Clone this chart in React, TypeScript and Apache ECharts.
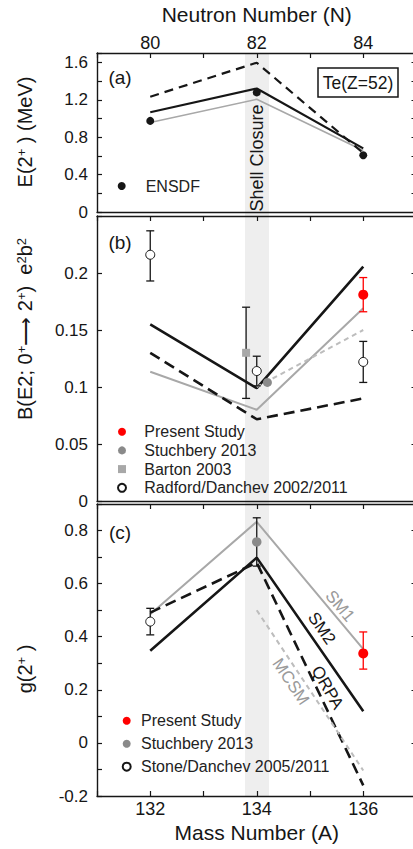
import React, { useEffect, useRef } from "react";
import * as echarts from "echarts";

const FONT = '"Liberation Sans", Arial, Helvetica, sans-serif';

// Mass number A of the Te isotopes; neutron number N = A - Z
const massA = [132, 134, 136];
const Z_TE = 52;
const shellBand = [133.78, 134.23];

// (a) E(2+) in MeV
const aEnsdf = [0.974, 1.279, 0.606];
const aSM1 = [0.956, 1.205, 0.657];
const aSM2 = [1.067, 1.32, 0.68];
const aQRPA = [1.233, 1.596, 0.63];

// (b) B(E2; 0+ -> 2+) in e2b2
const bSM1 = [0.1134, 0.08, 0.169];
const bSM2 = [0.155, 0.099, 0.2055];
const bQRPA = [0.13, 0.0717, 0.09];
const bMcsmA = [134, 136];
const bMCSM = [0.1, 0.15];
const bPresentA = [136];
const bPresent = [0.181];
const bPresentLo = [0.166];
const bPresentHi = [0.196];
const bStuchA = [134.2];
const bStuch = [0.104];
const bBartonA = [133.8];
const bBarton = [0.13];
const bBartonLo = [0.09];
const bBartonHi = [0.17];
const bRadfordA = [132, 134, 136];
const bRadford = [0.216, 0.114, 0.122];
const bRadfordLo = [0.193, 0.101, 0.104];
const bRadfordHi = [0.237, 0.127, 0.14];

// (c) g(2+)
const cSM1 = [0.485, 0.833, 0.353];
const cSM2 = [0.347, 0.698, 0.119];
const cQRPA = [0.491, 0.679, -0.16];
const cMcsmA = [134, 136];
const cMCSM = [0.5, -0.104];
const cPresentA = [136];
const cPresent = [0.337];
const cPresentLo = [0.278];
const cPresentHi = [0.418];
const cStuchA = [134];
const cStuch = [0.757];
const cStuchLo = [0.666];
const cStuchHi = [0.848];
const cStoneA = [132];
const cStone = [0.457];
const cStoneLo = [0.407];
const cStoneHi = [0.507];

const BLACK = "#161616";
const GRAY = "#a8a8a8";
const LIGHT = "#bdbdbd";
const MARK_GRAY = "#8a8a8a";
const RED = "#ff0000";

const pts = (xs: number[], ys: number[]) => xs.map((x, i) => [x, ys[i]]);
const errs = (xs: number[], lo: number[], hi: number[]) => xs.map((x, i) => [x, lo[i], hi[i]]);
const isMult = (v: number, s: number) => Math.abs(v / s - Math.round(v / s)) < 1e-6;
const fmt = (v: number) => String(Number(v.toFixed(3)));

function lineSeries(g: number, data: number[][], color: string, width: number, dash?: number[]) {
  return {
    type: "line",
    xAxisIndex: g * 2 + 1,
    yAxisIndex: g * 2,
    data,
    symbol: "none",
    z: 2,
    silent: true,
    lineStyle: { color, width, type: dash ? dash : "solid", opacity: 1 },
  };
}

function scatterSeries(g: number, name: string, data: number[][], itemStyle: any, symbol = "circle", size = 9) {
  return {
    type: "scatter",
    name,
    xAxisIndex: g * 2 + 1,
    yAxisIndex: g * 2,
    data,
    symbol,
    symbolSize: size,
    itemStyle: { opacity: 1, ...itemStyle },
    z: 4,
  };
}

function errorSeries(g: number, data: number[][], color: string) {
  return {
    type: "custom",
    xAxisIndex: g * 2 + 1,
    yAxisIndex: g * 2,
    z: 3,
    silent: true,
    encode: { x: 0, y: [1, 2] },
    data,
    renderItem: (params: any, api: any) => {
      const x = api.value(0);
      const top = api.coord([x, api.value(2)]);
      const bot = api.coord([x, api.value(1)]);
      const w = 4;
      const st = { stroke: color, lineWidth: 1.3 };
      return {
        type: "group",
        children: [
          { type: "line", shape: { x1: top[0], y1: top[1], x2: bot[0], y2: bot[1] }, style: st },
          { type: "line", shape: { x1: top[0] - w, y1: top[1], x2: top[0] + w, y2: top[1] }, style: st },
          { type: "line", shape: { x1: bot[0] - w, y1: bot[1], x2: bot[0] + w, y2: bot[1] }, style: st },
        ],
      };
    },
  };
}

function bandSeries(g: number, extTop: number, extBottom: number) {
  return {
    type: "custom",
    xAxisIndex: g * 2 + 1,
    yAxisIndex: g * 2,
    z: -1,
    silent: true,
    encode: { x: [0, 1], y: 2 },
    data: [[shellBand[0], shellBand[1], 0]],
    renderItem: (params: any, api: any) => {
      const x0 = api.coord([api.value(0), 0])[0];
      const x1 = api.coord([api.value(1), 0])[0];
      const cs = params.coordSys;
      return {
        type: "rect",
        shape: { x: x0, y: cs.y - extTop, width: x1 - x0, height: cs.height + extTop + extBottom },
        style: { fill: "#eeeeee" },
      };
    },
  };
}

const axisLineStyle = { color: BLACK, width: 1.4 };
const tickIn = (show: boolean) => ({ show, inside: true, length: 5, lineStyle: { color: BLACK, width: 1.2 } });

function xAxes(g: number) {
  const top: any = {
    type: "value",
    gridIndex: g,
    position: "top",
    min: 131,
    max: 137,
    interval: 1,
    axisLine: { show: true, onZero: false, lineStyle: axisLineStyle },
    axisTick: tickIn(true),
    splitLine: { show: false },
    axisLabel: { show: false },
  };
  const bottom: any = {
    type: "value",
    gridIndex: g,
    position: "bottom",
    min: 131,
    max: 137,
    interval: 1,
    axisLine: { show: true, onZero: false, lineStyle: axisLineStyle },
    axisTick: tickIn(g === 2),
    splitLine: { show: false },
    axisLabel: { show: false },
  };
  if (g === 0) {
    top.axisLabel = {
      show: true,
      margin: 1,
      fontSize: 18,
      fontFamily: FONT,
      color: BLACK,
      formatter: (v: number) => (isMult(v, 2) && v >= 132 && v <= 136 ? String(v - Z_TE) : ""),
    };
    top.name = "Neutron Number (N)";
    top.nameLocation = "middle";
    top.nameGap = 28;
    top.nameTextStyle = { fontSize: 21, fontFamily: FONT, color: BLACK };
  }
  if (g === 2) {
    bottom.axisLabel = {
      show: true,
      margin: 4,
      fontSize: 18,
      fontFamily: FONT,
      color: BLACK,
      formatter: (v: number) => (isMult(v, 2) && v >= 132 && v <= 136 ? String(v) : ""),
    };
    bottom.name = "Mass Number (A)";
    bottom.nameLocation = "middle";
    bottom.nameGap = 26;
    bottom.nameTextStyle = { fontSize: 21, fontFamily: FONT, color: BLACK };
  }
  return [top, bottom];
}

function yAxes(g: number, min: number, max: number, interval: number, labelStep: number, labelMax: number, rightInterval: number) {
  return [
    {
      type: "value",
      gridIndex: g,
      position: "left",
      min,
      max,
      interval,
      axisLine: { show: true, onZero: false, lineStyle: axisLineStyle },
      axisTick: tickIn(true),
      splitLine: { show: false },
      axisLabel: {
        show: true,
        margin: 9,
        fontSize: 17,
        fontFamily: FONT,
        color: BLACK,
        formatter: (v: number) => (isMult(v, labelStep) && v <= labelMax + 1e-9 ? fmt(v) : ""),
      },
    },
    {
      type: "value",
      gridIndex: g,
      position: "right",
      min,
      max,
      interval: rightInterval,
      axisLine: { show: true, onZero: false, lineStyle: axisLineStyle },
      axisTick: tickIn(true),
      splitLine: { show: false },
      axisLabel: { show: false },
    },
  ];
}

const legendText = (pad: number) => ({
  fontSize: 16,
  fontFamily: FONT,
  color: "#222",
  lineHeight: 16,
  padding: [0, 0, 0, pad],
});

export default function App() {
  const ref = useRef<HTMLDivElement>(null);

  useEffect(() => {
    if (!ref.current) return;
    const chart = echarts.init(ref.current, undefined, { renderer: "svg" });

    const openCircle = { color: "#ffffff", borderColor: BLACK, borderWidth: 1 };
    const txt = (x: number, y: number, text: string, size: number, color = BLACK, rotationDeg = 0, extra: any = {}) => ({
      type: "text",
      x,
      y,
      rotation: (rotationDeg * Math.PI) / 180,
      z: 10,
      style: { text, fontSize: size, fontFamily: FONT, fill: color, align: "center", verticalAlign: "middle", ...extra },
    });
    const supRich = { sup: { fontSize: 13, verticalAlign: "top", lineHeight: 13, fontFamily: FONT, fill: BLACK } };
    const gridBase = { left: 97, width: 319.5, containLabel: false, outerBoundsMode: "none" };

    const option: any = {
      animation: false,
      backgroundColor: "#ffffff",
      textStyle: { fontFamily: FONT },
      grid: [
        { ...gridBase, top: 53, height: 159 },
        { ...gridBase, top: 216, height: 285 },
        { ...gridBase, top: 504, height: 292 },
      ],
      xAxis: [...xAxes(0), ...xAxes(1), ...xAxes(2)],
      yAxis: [
        ...yAxes(0, 0, 1.7, 0.2, 0.4, 1.6, 0.2),
        ...yAxes(1, 0, 0.25, 0.05, 0.05, 0.2, 0.05),
        ...yAxes(2, -0.2, 0.9, 0.1, 0.2, 0.8, 0.2),
      ],
      legend: [
        {
          left: 117.7, top: 178, orient: "vertical", padding: 0, itemWidth: 8, itemHeight: 8,
          selectedMode: false, textStyle: legendText(15), data: ["ENSDF"],
        },
        {
          left: 117, top: 423.7, orient: "vertical", padding: 0, itemWidth: 8, itemHeight: 8, itemGap: 2.7,
          selectedMode: false, textStyle: legendText(13.3),
          data: ["Present Study", "Stuchbery 2013", "Barton 2003", "Radford/Danchev 2002/2011"],
        },
        {
          left: 121.7, top: 712.7, orient: "vertical", padding: 0, itemWidth: 8, itemHeight: 8, itemGap: 7,
          selectedMode: false, textStyle: legendText(5.3),
          data: ["Present Study", "Stuchbery 2013", "Stone/Danchev 2005/2011"],
        },
      ],
      graphic: [
        txt(120, 77, "(a)", 19),
        txt(120, 242, "(b)", 19),
        txt(120, 532, "(c)", 19),
        {
          type: "rect", z: 10,
          shape: { x: 318, y: 68, width: 80, height: 29 },
          style: { fill: "#ffffff", stroke: BLACK, lineWidth: 1.5 },
        },
        txt(358, 83, "Te(Z=52)", 17.5),
        txt(257, 158, "Shell Closure", 18, BLACK, 90),
        txt(25, 132, "E(2{sup|+} ) (MeV)", 20, BLACK, 90, { rich: supRich }),
        txt(25, 329, "B(E2; 0{sup|+}⟶ 2{sup|+})  e{sup|2}b{sup|2}", 20, BLACK, 90, { rich: supRich }),
        txt(25, 669, "g(2{sup|+} )", 20, BLACK, 90, { rich: supRich }),
        txt(340, 606, "SM1", 17, "#9a9a9a", -50),
        txt(321.7, 628.3, "SM2", 17, BLACK, -55),
        txt(327.5, 687.5, "QRPA", 17, BLACK, -60),
        txt(290.8, 681.7, "MCSM", 17, "#9a9a9a", -56),
      ],
      series: [
        bandSeries(0, 0, 2.5),
        bandSeries(1, 2.5, 2),
        bandSeries(2, 2, 0),
        // (a)
        lineSeries(0, pts(massA, aSM1), GRAY, 1.6),
        lineSeries(0, pts(massA, aSM2), BLACK, 2.2),
        lineSeries(0, pts(massA, aQRPA), BLACK, 2.2, [9, 6]),
        scatterSeries(0, "ENSDF", pts(massA, aEnsdf), { color: BLACK }, "circle", 8),
        // (b)
        lineSeries(1, pts(massA, bSM1), GRAY, 2),
        lineSeries(1, pts(massA, bSM2), BLACK, 2.6),
        lineSeries(1, pts(massA, bQRPA), BLACK, 2.6, [11, 6]),
        lineSeries(1, pts(bMcsmA, bMCSM), LIGHT, 2, [5, 4]),
        errorSeries(1, errs(bRadfordA, bRadfordLo, bRadfordHi), BLACK),
        errorSeries(1, errs(bBartonA, bBartonLo, bBartonHi), BLACK),
        errorSeries(1, errs(bPresentA, bPresentLo, bPresentHi), RED),
        scatterSeries(1, "Present Study", pts(bPresentA, bPresent), { color: RED }, "circle", 10),
        scatterSeries(1, "Stuchbery 2013", pts(bStuchA, bStuch), { color: MARK_GRAY }, "circle", 9),
        scatterSeries(1, "Barton 2003", pts(bBartonA, bBarton), { color: GRAY }, "rect", 8),
        scatterSeries(1, "Radford/Danchev 2002/2011", pts(bRadfordA, bRadford), openCircle, "circle", 9),
        // (c)
        lineSeries(2, pts(massA, cSM1), GRAY, 2),
        lineSeries(2, pts(massA, cSM2), BLACK, 2.6),
        lineSeries(2, pts(massA, cQRPA), BLACK, 2.6, [11, 6]),
        lineSeries(2, pts(cMcsmA, cMCSM), LIGHT, 2, [5, 4]),
        errorSeries(2, errs(cStoneA, cStoneLo, cStoneHi), BLACK),
        errorSeries(2, errs(cStuchA, cStuchLo, cStuchHi), BLACK),
        errorSeries(2, errs(cPresentA, cPresentLo, cPresentHi), RED),
        scatterSeries(2, "Present Study", pts(cPresentA, cPresent), { color: RED }, "circle", 10),
        scatterSeries(2, "Stuchbery 2013", pts(cStuchA, cStuch), { color: MARK_GRAY }, "circle", 9.5),
        scatterSeries(2, "Stone/Danchev 2005/2011", pts(cStoneA, cStone), openCircle, "circle", 9),
      ],
    };

    chart.setOption(option);
    return () => chart.dispose();
  }, []);

  return <div ref={ref} style={{ position: "absolute", left: 0, top: 0, width: 413, height: 849 }} />;
}
